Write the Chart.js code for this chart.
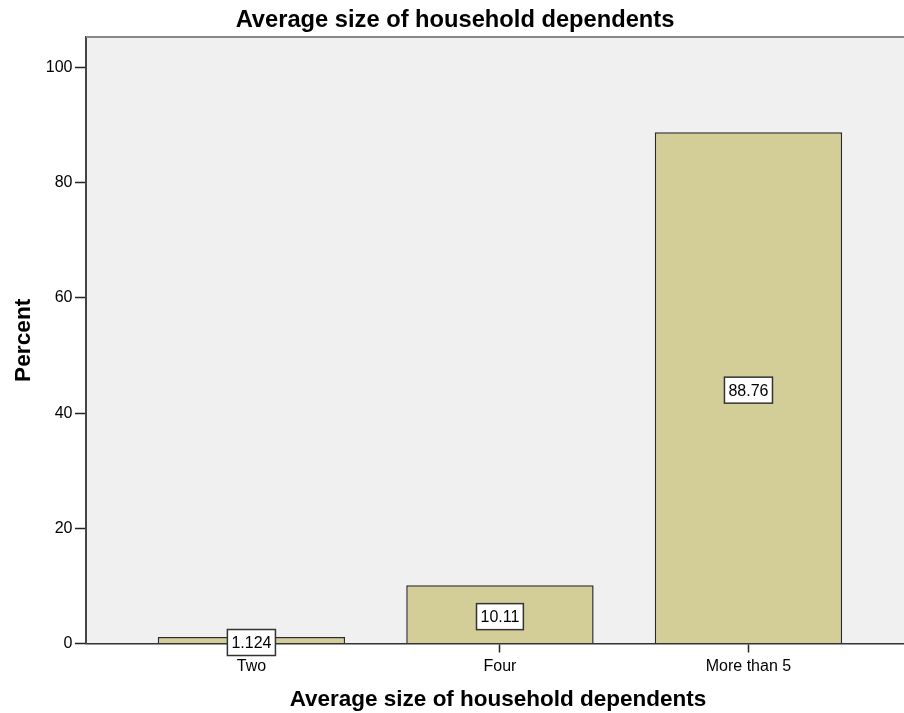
<!DOCTYPE html>
<html>
<head>
<meta charset="utf-8">
<script src="https://cdn.jsdelivr.net/npm/chart.js@4.4.1/dist/chart.umd.min.js"></script>
<style>
html, body { margin: 0; padding: 0; background: #fff; overflow: hidden; }
canvas { display: block; }
</style>
</head>
<body>
<canvas id="c" width="910" height="713"></canvas>
<script>
const chartTitle = 'Average size of household dependents';
const xAxisTitle = 'Average size of household dependents';
const yAxisTitle = 'Percent';
const categories = ['Two', 'Four', 'More than 5'];
const percents = [1.124, 10.11, 88.76];
const valueLabels = ['1.124', '10.11', '88.76'];
const yMin = 0, yMax = 105.3, yStep = 20;
const xMin = -0.6656, xMax = 2.65;

const plotFrame = {
  id: 'plotFrame',
  beforeDraw(chart) {
    const {ctx, chartArea: a} = chart;
    ctx.save();
    ctx.fillStyle = '#F0F0F0';
    ctx.fillRect(a.left, a.top, a.right - a.left, a.bottom - a.top);
    ctx.restore();
  },
  afterDraw(chart) {
    const {ctx, chartArea: a} = chart;
    ctx.save();
    ctx.strokeStyle = '#888';
    ctx.lineWidth = 2;
    ctx.beginPath();
    ctx.moveTo(a.left, a.top);
    ctx.lineTo(a.right, a.top);
    ctx.stroke();
    ctx.restore();
  }
};

const boxLabels = {
  id: 'boxLabels',
  afterDatasetsDraw(chart) {
    const {ctx} = chart;
    const meta = chart.getDatasetMeta(0);
    ctx.save();
    ctx.font = '16px "Liberation Sans", Arial, sans-serif';
    ctx.textAlign = 'center';
    ctx.textBaseline = 'middle';
    meta.data.forEach((bar, i) => {
      const txt = valueLabels[i];
      const w = ctx.measureText(txt).width + 8;
      const h = 26;
      const cx = bar.x;
      const cy = (bar.y + bar.base) / 2 + 2.5;
      ctx.fillStyle = '#fff';
      ctx.fillRect(cx - w / 2, cy - h / 2, w, h);
      ctx.strokeStyle = '#333';
      ctx.lineWidth = 1.5;
      ctx.strokeRect(cx - w / 2, cy - h / 2, w, h);
      ctx.fillStyle = '#000';
      ctx.fillText(txt, cx, cy + 1);
    });
    ctx.restore();
  }
};

Chart.defaults.font.family = '"Liberation Sans", Arial, sans-serif';
Chart.defaults.color = '#000';

new Chart(document.getElementById('c'), {
  type: 'bar',
  data: {
    datasets: [{
      data: categories.map((c, i) => ({x: i, y: percents[i]})),
      backgroundColor: '#D3CE98',
      borderColor: '#2a2a2a',
      borderWidth: 1.5,
      categoryPercentage: 1,
      barPercentage: 0.754
    }]
  },
  options: {
    responsive: false,
    animation: false,
    layout: { padding: 0 },
    plugins: {
      legend: { display: false },
      tooltip: { enabled: false },
      title: {
        display: true,
        text: chartTitle,
        font: { size: 23.7, weight: 'bold' },
        color: '#000',
        padding: { top: 6.4, bottom: 2.2 }
      }
    },
    scales: {
      x: {
        type: 'linear',
        min: xMin,
        max: xMax,
        offset: false,
        afterFit(s) { s.height = 69.5; },
        ticks: {
          stepSize: 1,
          includeBounds: false,
          autoSkip: false,
          maxRotation: 0,
          padding: 4,
          font: { size: 16 },
          color: '#000',
          callback: (v) => (categories[v] !== undefined ? categories[v] : '')
        },
        grid: {
          display: true,
          offset: false,
          drawOnChartArea: false,
          drawTicks: true,
          tickLength: 9,
          tickColor: '#222',
          tickWidth: 1.5
        },
        border: { display: true, color: '#333', width: 1.5 },
        title: {
          display: true,
          text: xAxisTitle,
          font: { size: 22.5, weight: 'bold' },
          color: '#000',
          padding: { top: 0, bottom: 0 }
        }
      },
      y: {
        min: yMin,
        max: yMax,
        afterFit(s) { s.width = 86; },
        ticks: {
          stepSize: yStep,
          includeBounds: false,
          padding: 2.5,
          font: { size: 16 },
          color: '#000'
        },
        grid: {
          display: true,
          drawOnChartArea: false,
          drawTicks: true,
          tickLength: 11,
          tickColor: '#222',
          tickWidth: 1.5
        },
        border: { display: true, color: '#444', width: 2 },
        title: {
          display: true,
          text: yAxisTitle,
          font: { size: 22.7, weight: 'bold' },
          color: '#000',
          padding: { top: 10, bottom: 0 }
        }
      }
    }
  },
  plugins: [plotFrame, boxLabels]
});
</script>
</body>
</html>
